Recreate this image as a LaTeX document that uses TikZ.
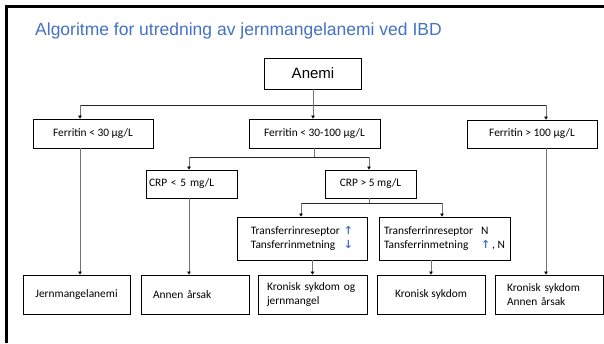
\documentclass[tikz,border=0pt]{standalone}
\usepackage{fontspec}
\setmainfont{Carlito}
\newfontfamily\arialfont{Liberation Sans}
\newfontfamily\symfont{DejaVu Sans}
\usetikzlibrary{positioning,arrows.meta}
\usepackage{xcolor}
\definecolor{titleblue}{HTML}{4472C4}
\newcommand{\opp}{{\symfont\bfseries\fontsize{11}{11}\selectfont\color{titleblue}\char"2191}}
\newcommand{\ned}{{\symfont\bfseries\fontsize{11}{11}\selectfont\color{titleblue}\char"2193}}

\begin{document}
\begin{tikzpicture}[
  x=1pt,y=-1pt,
  line cap=butt,
  boks/.style={draw=black,line width=0.9pt,fill=white,inner sep=0pt,font=\fontsize{11.4}{14}\selectfont},
  conn/.style={draw=black!55,line width=0.7pt},
  tverr/.style={conn,draw=black!85},
  arr/.style={conn,-{Triangle[length=3pt,width=3.5pt,black]}}
]
  \path[use as bounding box] (0,0) rectangle (604,343);
  \fill[white] (0,0) rectangle (604,343);
  \draw[line width=3pt] (6.5,343) -- (6.5,6.5) -- (604,6.5);

  \node[anchor=base west,inner sep=0pt,text=titleblue,font=\arialfont\fontsize{17.5}{20}\selectfont] (tittel) at (35,35) {Algoritme for utredning av jernmangelanemi ved IBD};

  % top level
  \node[boks,minimum width=97pt,minimum height=31pt,font=\arialfont\fontsize{15}{18}\selectfont] (anemi) at (313,73.5) {Anemi};

  \node[boks,minimum width=120pt,minimum height=29pt] (fer1) at (93,133.5) {Ferritin < 30 µg/L};
  \node[boks,minimum width=131pt,minimum height=29pt] (fer2) at (314.5,133.5) {Ferritin < 30-100 µg/L};
  \node[boks,minimum width=130pt,minimum height=28pt] (fer3) at (532,134) {Ferritin > 100 µg/L};

  \node[boks,minimum height=28pt,text width=85pt,inner xsep=3pt,align=left] (crp1) at (191.5,184) {CRP < 5 mg/L};
  \node[boks,minimum width=91pt,minimum height=28pt] (crp2) at (370.5,184) {CRP > 5 mg/L};

  \node[boks,minimum width=130pt,minimum height=43pt] (t1) at (302,238.5)
    {\begin{tabular}{@{}l@{\hspace{4pt}}l@{}}Transferrinreseptor & \opp\\ Tansferrinmetning & \ned\end{tabular}};
  \node[boks,minimum width=131pt,minimum height=43pt] (t2) at (444.5,238.5)
    {\begin{tabular}{@{}l@{\hspace{8pt}}l@{}}Transferrinreseptor & N\\ Tansferrinmetning & \opp\,, N\end{tabular}};

  % bottom row
  \node[boks,minimum width=107pt,minimum height=39pt] (jern) at (76.5,294.5) {Jernmangelanemi};
  \node[boks,minimum height=39pt,text width=84pt,inner xsep=12pt,align=left] (annen) at (195,294.5) {Annen årsak};
  \node[boks,minimum height=39pt,text width=91pt,inner xsep=9pt,align=left] (kronjern) at (312.5,294.5) {Kronisk sykdom og\\jernmangel};
  \node[boks,minimum width=108pt,minimum height=39pt] (kron) at (431,294.5) {Kronisk sykdom};
  \node[boks,minimum height=39pt,text width=84pt,inner xsep=12pt,align=left] (kronannen) at (549,294.5) {Kronisk sykdom\\Annen årsak};

  % connectors
  \coordinate (kA) at (313,105);
  \coordinate (k1) at (80,105);
  \coordinate (k3) at (546,105);
  \draw[conn] (anemi) -- (kA);
  \draw[tverr] (k1) -- (k3);
  \draw[arr] (k1) -- (k1 |- fer1.north);
  \draw[arr] (kA) -- (kA |- fer2.north);
  \draw[arr] (k3) -- (k3 |- fer3.north);

  \coordinate (k4) at (189,157);
  \coordinate (k5) at (369,157);
  \draw[conn] (fer2.south) -- (fer2.south |- k4);
  \draw[tverr] (k4) -- (k5);
  \draw[arr] (k4) -- (k4 |- crp1.north);
  \draw[arr] (k5) -- (k5 |- crp2.north);

  \coordinate (k6) at (301,203);
  \coordinate (k7) at (442,203);
  \draw[conn] (k5 |- crp2.south) -- (k5 |- k6);
  \draw[tverr] (k6) -- (k7);
  \draw[arr] (k6) -- (k6 |- t1.north);
  \draw[arr] (k7) -- (k7 |- t2.north);

  \draw[arr] (k1 |- fer1.south) -- (k1 |- jern.north);
  \draw[arr] (k4 |- crp1.south) -- (k4 |- annen.north);
  \draw[arr] (t1.south -| kronjern) -- (kronjern);
  \draw[arr] (t2.south -| kron) -- (kron);
  \draw[arr] (k3 |- fer3.south) -- (k3 |- kronannen.north);
\end{tikzpicture}
\end{document}
